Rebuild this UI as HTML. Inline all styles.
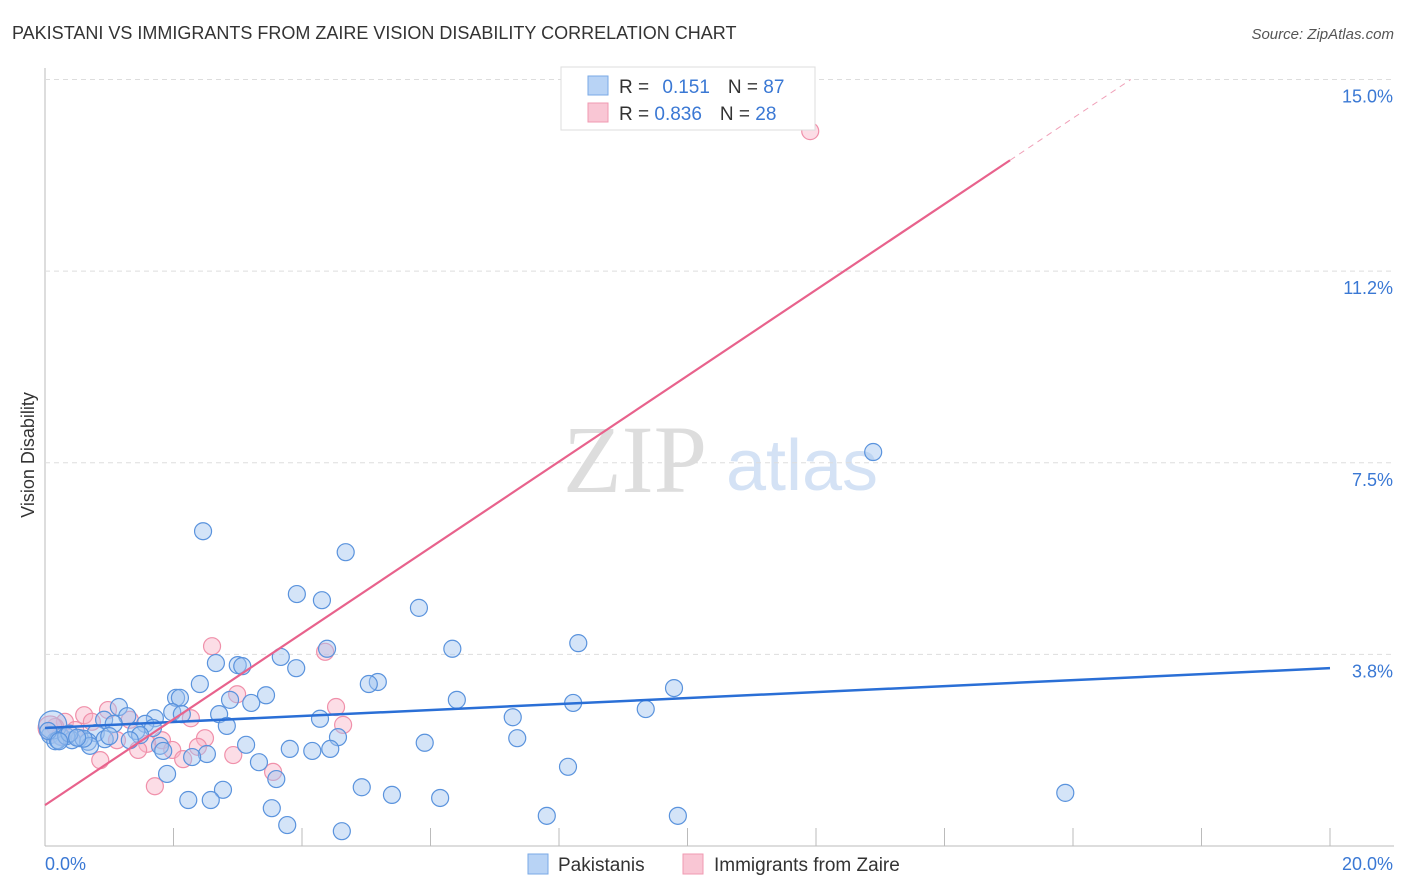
<!DOCTYPE html>
<html><head><meta charset="utf-8"><style>
body{margin:0;background:#fff;font-family:"Liberation Sans",sans-serif}
</style></head><body>
<svg id="c" width="1406" height="892" style="display:block">
<text x="12" y="39" font-size="18" fill="#333">PAKISTANI VS IMMIGRANTS FROM ZAIRE VISION DISABILITY CORRELATION CHART</text>
<text x="1394" y="39" font-size="15" fill="#555" font-style="italic" text-anchor="end">Source: ZipAtlas.com</text>
<text x="34" y="455" font-size="18" fill="#333" text-anchor="middle" transform="rotate(-90 34 455)">Vision Disability</text>
<text x="635" y="492" font-size="96" fill="#ddd" font-family="Liberation Serif,serif" text-anchor="middle">ZIP</text>
<text x="802" y="490" font-size="72" fill="#d4e2f5" text-anchor="middle">atlas</text>
<g id="grid"></g><g id="pts"></g><g id="lines"></g>
<g>
<rect x="561" y="67" width="254" height="63" fill="#fff" stroke="#ddd"/>
<rect x="588" y="76" width="20" height="19" fill="#b8d3f5" stroke="#7aaae6"/>
<rect x="588" y="103" width="20" height="19" fill="#f9c6d4" stroke="#f09ab2"/>
<text x="619" y="93" font-size="19" fill="#333">R = <tspan fill="#3a78d4" dx="8">0.151</tspan><tspan dx="18" fill="#333">N = </tspan><tspan fill="#3a78d4">87</tspan></text>
<text x="619" y="120" font-size="19" fill="#333">R = <tspan fill="#3a78d4">0.836</tspan><tspan dx="18" fill="#333">N = </tspan><tspan fill="#3a78d4">28</tspan></text>
</g>
<g>
<rect x="528" y="854" width="20" height="20" fill="#b8d3f5" stroke="#7aaae6"/>
<text x="558" y="871" font-size="19" fill="#333">Pakistanis</text>
<rect x="683" y="854" width="20" height="20" fill="#f9c6d4" stroke="#f09ab2"/>
<text x="714" y="871" font-size="19" fill="#333">Immigrants from Zaire</text>
</g>
</svg>
<script>
const yTicks=[3.75,7.5,11.25,15];
const yTickLabels=["3.8%","7.5%","11.2%","15.0%"];
const xTickLabels=["0.0%","20.0%"];
const blueX=[2.46,4.68,3.92,4.31,5.82,8.30,6.34,4.39,3.67,2.66,3.00,3.07,3.91,5.18,5.04,2.41,9.79,3.44,2.04,2.10,6.41,2.88,8.22,3.21,1.15,9.35,1.98,2.13,2.71,1.28,1.71,7.28,4.28,0.92,1.07,1.56,2.83,1.68,1.42,0.79,1.48,0.08,0.26,4.56,7.35,0.54,0.93,0.42,1.32,0.16,0.67,5.91,3.13,1.79,0.70,3.81,4.44,4.16,1.84,2.52,2.29,3.33,8.14,1.90,3.60,4.93,2.77,15.88,5.40,2.23,2.58,6.15,3.53,7.81,9.85,3.77,4.62,12.89,0.12,0.20,0.33,0.05,0.60,0.38,1.00,0.50,0.22];
const blueY=[6.16,5.75,4.93,4.81,4.66,3.97,3.86,3.86,3.70,3.58,3.54,3.52,3.48,3.21,3.17,3.17,3.09,2.95,2.90,2.90,2.86,2.86,2.80,2.80,2.72,2.68,2.62,2.58,2.58,2.54,2.50,2.52,2.49,2.47,2.39,2.39,2.35,2.31,2.25,2.21,2.17,2.17,2.13,2.13,2.11,2.11,2.09,2.07,2.07,2.05,2.04,2.02,1.98,1.96,1.96,1.90,1.90,1.86,1.86,1.80,1.74,1.64,1.55,1.41,1.31,1.15,1.10,1.04,1.00,0.90,0.90,0.94,0.74,0.59,0.59,0.41,0.29,7.71,2.37,2.07,2.15,2.25,2.10,2.20,2.15,2.12,2.05];
const pinkX=[11.91,2.60,4.36,2.99,4.53,0.98,0.61,2.27,1.32,0.31,0.73,4.64,0.16,2.49,1.82,1.12,1.59,2.38,1.98,1.45,2.93,2.15,0.86,3.55,1.71,0.08,0.47,0.23];
const pinkY=[13.99,3.91,3.80,2.97,2.72,2.66,2.56,2.50,2.47,2.43,2.43,2.37,2.33,2.11,2.07,2.07,2.00,1.94,1.88,1.88,1.78,1.70,1.68,1.45,1.17,2.31,2.27,2.15];
const blueLine=[[0,2.31],[20,3.48]];
const pinkLine=[[0,0.8],[15.02,13.42]];
const pinkDash=[[15.02,13.42],[16.9,15.0]];
const NS="http://www.w3.org/2000/svg";
const X=v=>45+v*64.25, Y=v=>846-v*51.1;
function mk(t,a,p){const e=document.createElementNS(NS,t);for(const k in a)e.setAttribute(k,a[k]);document.getElementById(p).appendChild(e);return e;}
const ax=mk('line',{x1:45,y1:846,x2:1394,y2:846,stroke:'#bbb'},'grid');


const ay=mk('line',{x1:45,y1:68,x2:45,y2:846,stroke:'#bbb'},'grid');


for(let i=0;i<=10;i++){const t=mk('line',{x1:X(i*2),x2:X(i*2),y1:828,y2:846,stroke:'#bbb'},'grid');

}
yTicks.forEach((v,i)=>{const g=mk('line',{x1:45,x2:1394,y1:Y(v),y2:Y(v),stroke:'#ddd','stroke-dasharray':'5,4'},'grid');


const t=mk('text',{x:1393,y:Y(v)+23,'font-size':18,fill:'#3a78d4','text-anchor':'end'},'grid');t.textContent=yTickLabels[i];

});
[[0,'start',45],[1,'end',1393]].forEach(([i,a,x])=>{const t=mk('text',{x:x,y:870,'font-size':18,fill:'#3a78d4','text-anchor':a},'grid');t.textContent=xTickLabels[i];

});
pinkX.forEach((v,i)=>{const c=mk('circle',{cx:X(v),cy:Y(pinkY[i]),r:i==25?12:8.5,fill:'rgba(248,180,200,0.45)',stroke:'#f090aa','stroke-width':1.2},'pts');

});
blueX.forEach((v,i)=>{const c=mk('circle',{cx:X(v),cy:Y(blueY[i]),r:i==78?14:8.5,fill:'rgba(160,196,240,0.45)',stroke:'#5a93dd','stroke-width':1.2},'pts');

});
const l1=mk('line',{x1:X(blueLine[0][0]),y1:Y(blueLine[0][1]),x2:X(blueLine[1][0]),y2:Y(blueLine[1][1]),stroke:'#2a6fd6','stroke-width':2.5},'lines');


const l2=mk('line',{x1:X(pinkLine[0][0]),y1:Y(pinkLine[0][1]),x2:X(pinkLine[1][0]),y2:Y(pinkLine[1][1]),stroke:'#e8628c','stroke-width':2.2},'lines');


const l3=mk('line',{x1:X(pinkDash[0][0]),y1:Y(pinkDash[0][1]),x2:X(pinkDash[1][0]),y2:Y(pinkDash[1][1]),stroke:'#f0a0b8','stroke-width':1,'stroke-dasharray':'6,5'},'lines');


</script>
</body></html>
